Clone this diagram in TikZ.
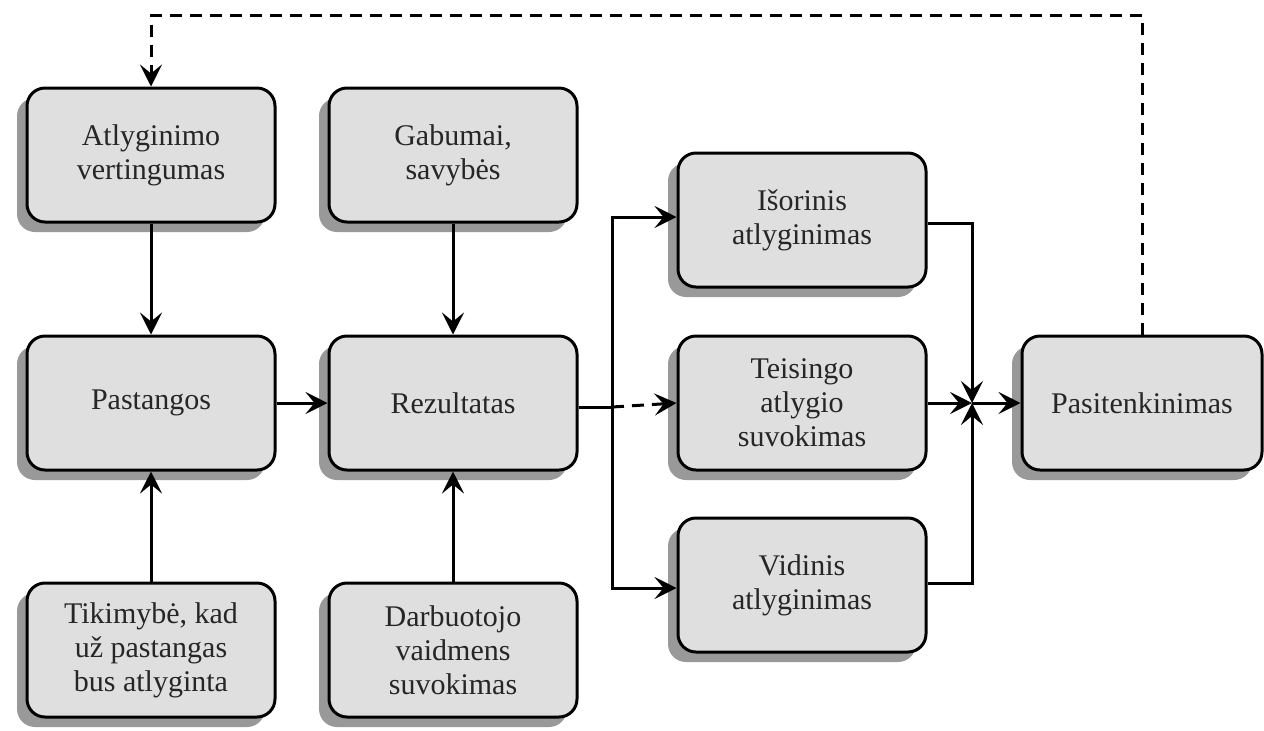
\documentclass[tikz,border=0pt]{standalone}
\usepackage{fontspec}
\setmainfont{Liberation Serif}
\usetikzlibrary{arrows.meta, shadows}

\tikzset{
  box/.style={draw=black, line width=1.5pt, rounded corners=9pt, fill=gray!25,
    minimum width=124pt, minimum height=67pt, align=center, text=black!85,
    font=\fontsize{15}{17}\selectfont,
    drop shadow={shadow xshift=-5pt, shadow yshift=-5pt, fill=gray!80, opacity=1}},
  arrowtip/.style={-{Stealth[length=11pt, width=11pt, inset=4.5pt]}},
  link/.style={line width=1.5pt, arrowtip},
  plain/.style={line width=1.5pt},
  feedback/.style={line width=1.5pt, dash pattern=on 6pt off 4pt}
}

\begin{document}
\begin{tikzpicture}[x=0.5pt, y=-0.5pt, line cap=butt, line join=miter]
  \useasboundingbox (0,0) rectangle (1264,730);
  % Left column
  \node [box] (atl) at (151, 155) {Atlyginimo\\vertingumas};
  \node [box] (past) at (151, 403) {Pastangos};
  \node [box] (tik) at (151, 650) {Tikimybė, kad\\už pastangas\\bus atlyginta};
  % Middle column
  \node [box] (gab) at (453, 155) {Gabumai,\\savybės};
  \node [box] (rez) at (453, 403) {Rezultatas};
  \node [box] (darb) at (453, 650) {Darbuotojo\\vaidmens\\suvokimas};
  % Rewards
  \node [box] (isor) at (802, 220) {Išorinis\\atlyginimas};
  \node [box] (teis) at (802, 403) {Teisingo\\atlygio\\suvokimas};
  \node [box] (vid) at (802, 585) {Vidinis\\atlyginimas};
  % Outcome
  \node [box, minimum width=120pt] (pas) at (1142, 403) {Pasitenkinimas};
  % Helper points
  \coordinate (split) at (612, 407);
  \coordinate (join) at (972, 403);
  \coordinate (top) at (0, 15);
  % Vertical arrows
  \draw [link] (atl) -- (past);
  \draw [link] (gab) -- (rez);
  \draw [link] (tik) -- (past);
  \draw [link] (darb) -- (rez);
  \draw [link] (past) -- (rez);
  % Split to rewards
  \draw [plain] (rez.east |- split) -- (split);
  \draw [link] (split) |- ([yshift=1.5pt]isor.west);
  \draw [link] (split) |- ([yshift=-1.5pt]vid.west);
  \draw [feedback, arrowtip] (split) -- (teis.west);
  % Join to outcome
  \draw [link] ([yshift=-1.5pt]isor.east) -| (join);
  \draw [link] ([yshift=1pt]vid.east) -| (join);
  \draw [link] (teis.east) -- (join);
  \draw [link] (join) -- (pas.west);
  % Feedback loop
  \draw [feedback, arrowtip] (pas.north) -- (pas.north |- top) -| (atl.north);
\end{tikzpicture}
\end{document}
